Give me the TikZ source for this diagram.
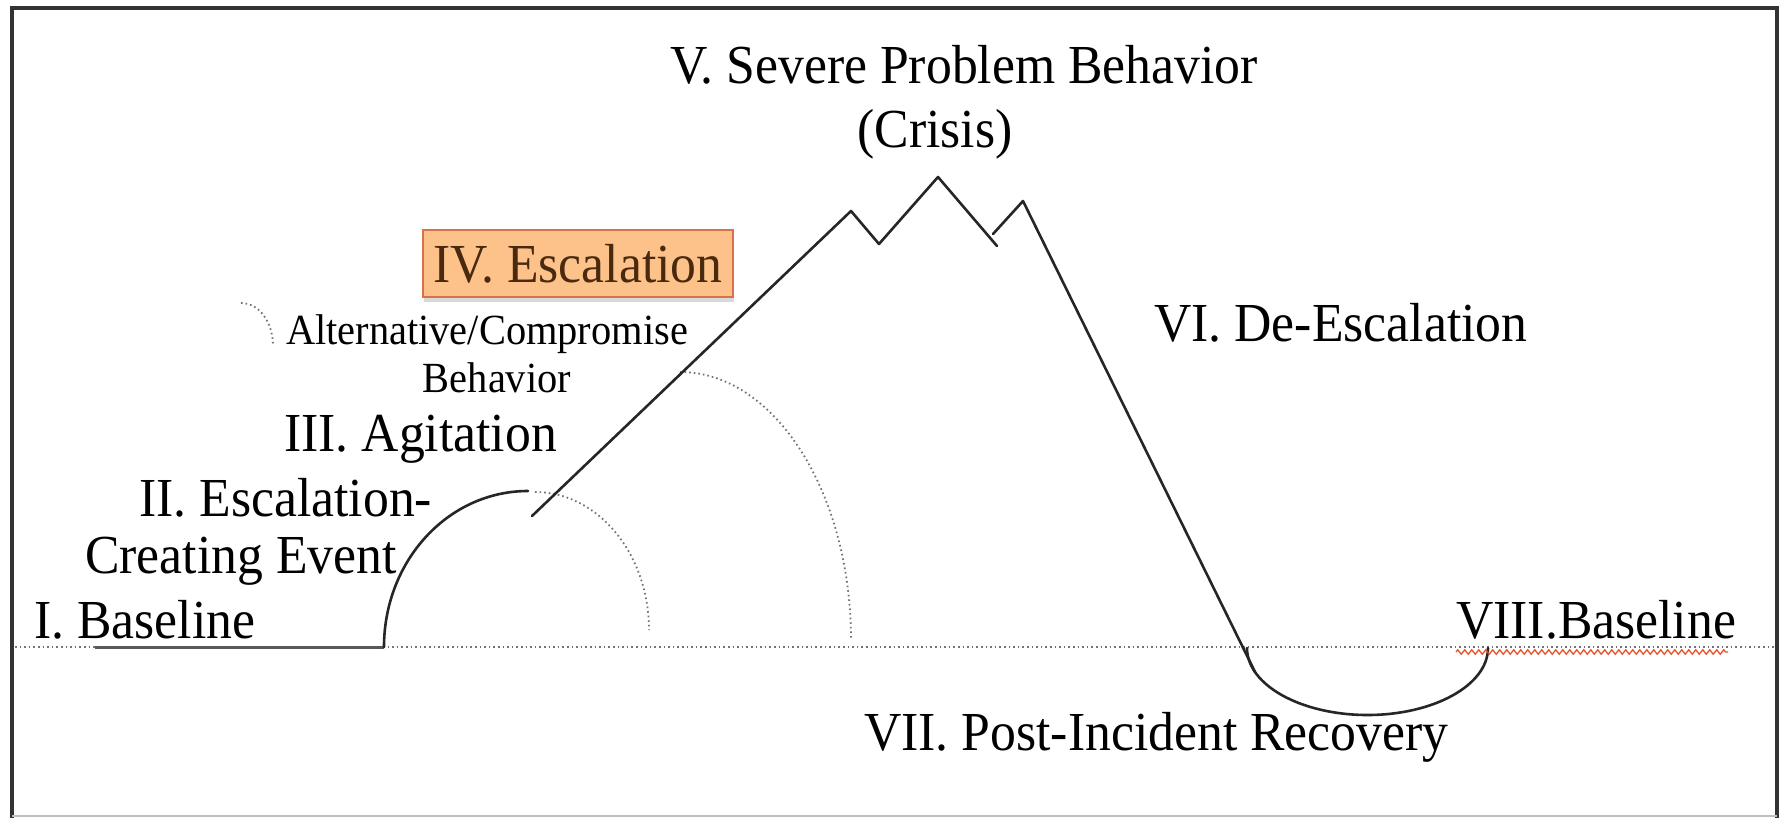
\documentclass[tikz,border=0pt]{standalone}
\usepackage{fontspec}
\setmainfont{Liberation Serif}
\usetikzlibrary{shadows,decorations.pathmorphing}
\definecolor{boxfill}{HTML}{FCC28A}
\definecolor{boxedge}{HTML}{D9714B}
\definecolor{boxtext}{HTML}{4A2A0E}
\definecolor{squiggle}{HTML}{E8502A}
\newcommand\narrow[1]{\scalebox{0.94}[1]{#1}}

\begin{document}
\begin{tikzpicture}[x=1pt,y=-1pt,
  big/.style={font=\fontsize{55}{60}\selectfont, inner sep=0pt},
  small/.style={font=\fontsize{43}{48}\selectfont, inner sep=0pt},
  curve/.style={line width=2.6pt, black!85, line join=round, line cap=round},
  guide/.style={line width=1.8pt, black!55, dash pattern=on 1.6pt off 3pt},
  frameline/.style={line width=4pt, black!80},
  ]
\useasboundingbox (0,0) rectangle (1783,817);

% frame
\draw[frameline] (12,820) -- (12,8) -- (1777,8) -- (1777,820);
\draw[black!25, line width=1.5pt] (12,816) -- (1777,816);

% key points of the curve
\coordinate (b0) at (15,647);
\coordinate (b1) at (1775,647);
\coordinate (s0) at (95,647);
\coordinate (a0) at (384,647);
\coordinate (a1) at (528,491);
\coordinate (l0) at (532,516);
\coordinate (p1) at (851,211);
\coordinate (v1) at (879,244);
\coordinate (p2) at (938,177);
\coordinate (v2) at (997,246);
\coordinate (w2) at (993,234);
\coordinate (p3) at (1023,201);
\coordinate (l1) at (1255,672);
\coordinate (r0) at (1247,648);
\coordinate (rb) at (1367.5,715);
\coordinate (r1) at (1488,648);
\coordinate (d0) at (535,492);
\coordinate (d1) at (649,630);
\coordinate (e0) at (680,372);
\coordinate (e1) at (851,640);
\coordinate (f0) at (241,303);
\coordinate (f1) at (273,346);
\coordinate (u0) at (1456,652);
\coordinate (u1) at (1728,652);

% dotted baseline and guide arcs
\draw[guide] (b0) -- (b1);
\draw[guide] (d0) .. controls (598,492) and (649,554) .. (d1);
\draw[guide] (e0) .. controls (774,372) and (851,492) .. (e1);
\draw[guide] (f0) .. controls (259,303) and (273,322) .. (f1);

% solid behaviour curve
\draw[line width=3pt, black!65] (s0) -- (a0);
\draw[curve] (a0) .. controls (384,561) and (448,491) .. (a1);
\draw[curve] (l0) -- (p1) -- (v1) -- (p2) -- (v2);
\draw[curve] (w2) -- (p3) -- (l1);
\draw[curve] (r0) .. controls (1247,685) and (1301,715) .. (rb)
                  .. controls (1434,715) and (1488,685) .. (r1);

% labels
\node[big, anchor=base] (sev) at (964,83) {\narrow{V. Severe Problem Behavior}};
\node[big, anchor=base] (crisis) at (935,147) {\narrow{(Crisis)}};
\node[big, draw=boxedge, fill=boxfill, line width=2pt, text=boxtext,
      minimum width=310pt, minimum height=67pt,
      drop shadow={shadow xshift=1pt, shadow yshift=-5pt, opacity=0.3}]
      (esc) at (578,263.5) {\narrow{IV. Escalation}};
\node[small, anchor=base] (alt) at (487,344) {\narrow{Alternative/Compromise}};
\node[small, anchor=base] (beh) at (497,392) {\narrow{Behavior}};
\node[big, anchor=base west] (agit) at (284,451) {\narrow{III. Agitation}};
\node[big, anchor=base west] (ev1) at (139,516) {\narrow{II. Escalation-}};
\node[big, anchor=base west] (ev2) at (85,573) {\narrow{Creating Event}};
\node[big, anchor=base west] (base1) at (34,638) {\narrow{I. Baseline}};
\node[big, anchor=base west] (deesc) at (1154,341) {\narrow{VI. De-Escalation}};
\node[big, anchor=base west] (base8) at (1456,638) {\narrow{VIII.Baseline}};
\node[big, anchor=base west] (recov) at (864,750) {\narrow{VII. Post-Incident Recovery}};

% spell-check underline
\draw[squiggle, line width=1.3pt,
      decorate, decoration={zigzag, amplitude=2.2pt, segment length=7pt}]
  (u0) -- (u1);
\end{tikzpicture}
\end{document}
